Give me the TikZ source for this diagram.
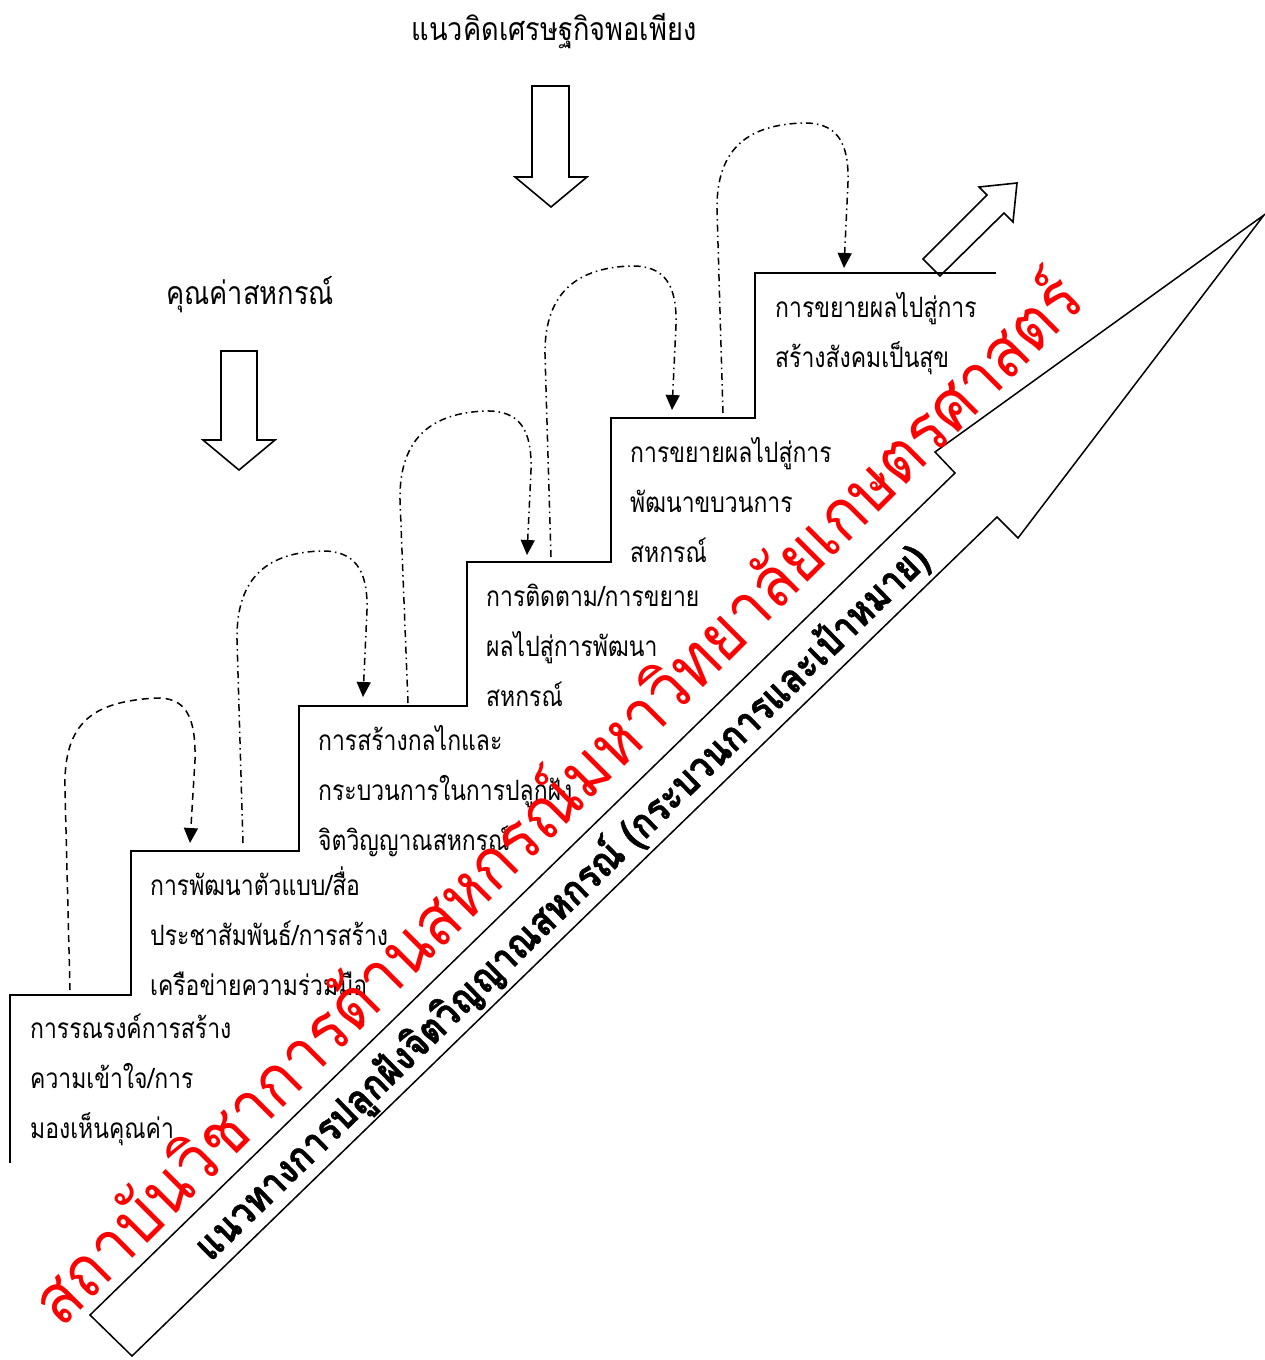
\documentclass[tikz,border=0pt]{standalone}
\usepackage{fontspec}
\usepackage{graphicx}
\usetikzlibrary{arrows.meta}
\newfontfamily\thaifont[Script=Thai]{Loma}
\newfontfamily\diagfont[Script=Thai,BoldFeatures={FakeBold=1.2}]{Loma}
\newfontfamily\stepfont[Script=Thai,FakeStretch=0.82]{Loma}
\newfontfamily\titlefont[Script=Thai,FakeStretch=0.85]{Loma}
\newcommand\stepsize{\stepfont\fontsize{28}{30}\selectfont}
\newcommand\titlesize{\titlefont\fontsize{32}{34}\selectfont}
\begin{document}
\begin{tikzpicture}[x=1pt,y=-1pt,
  stair/.style={line width=2pt, line join=miter},
  blockarrow/.style={draw, line width=1.6pt, line join=miter},
  bigarrow/.style={draw, line width=1.5pt, line join=miter},
  loopA/.style={line width=1.5pt, dash pattern=on 7pt off 5pt, -{Triangle[length=15pt,width=14pt]}},
  loopB/.style={line width=1.5pt, dash pattern=on 7pt off 4pt on 1.5pt off 4pt, -{Triangle[length=15pt,width=14pt]}},
  steptext/.style={anchor=base west, inner sep=0pt, font=\stepsize},
  titletext/.style={anchor=base, inner sep=0pt, font=\titlesize},
]
\useasboundingbox (0,0) rectangle (1264,1360);

% staircase
\draw[stair] (10,1163) -- (10,995) -- (131,995) -- (131,851) -- (299,851) -- (299,706)
  -- (467,706) -- (467,562) -- (611,562) -- (611,418) -- (755,418) -- (755,273) -- (996,273);

% titles
\node[titletext] (t1) at (250,304) {คุณค่าสหกรณ์};
\node[titletext] (t2) at (554,40) {แนวคิดเศรษฐกิจพอเพียง};

% block arrows down
\draw[blockarrow] (221,351) -- (257,351) -- (257,440) -- (275,440) -- (239,470) -- (203,440) -- (221,440) -- cycle;
\draw[blockarrow] (532,86) -- (569,86) -- (569,177) -- (587,177) -- (551,207) -- (515,177) -- (532,177) -- cycle;

% small diagonal arrow
\draw[blockarrow] (940,276) -- (923,259) -- (987,195) -- (979,187) -- (1017,183) -- (1013,222) -- (1004,213) -- cycle;

% big arrow
\draw[bigarrow] (90,1315) -- (955,473) -- (935,452) -- (1264,215) -- (1018,538) -- (997,517) -- (132,1356) -- cycle;

% loops
\coordinate (l1s) at (70,990);  \coordinate (l1e) at (190,843);
\coordinate (l2s) at (243,843); \coordinate (l2e) at (363,697);
\coordinate (l3s) at (408,703); \coordinate (l3e) at (527,555);
\coordinate (l4s) at (551,557); \coordinate (l4e) at (672,410);
\coordinate (l5s) at (723,413); \coordinate (l5e) at (844,268);
\draw[loopA] (l1s) -- (65,790) .. controls (63,720) and (95,702) .. (155,698)
  .. controls (185,697) and (196,715) .. (195,760) -- (l1e);
\draw[loopB] (l2s) -- (237,640) .. controls (236,575) and (270,553) .. (320,551)
  .. controls (355,550) and (368,570) .. (367,610) -- (l2e);
\draw[loopB] (l3s) -- (400,500) .. controls (399,435) and (435,413) .. (485,411)
  .. controls (520,410) and (532,430) .. (531,470) -- (l3e);
\draw[loopB] (l4s) -- (545,355) .. controls (544,290) and (580,268) .. (630,266)
  .. controls (665,265) and (677,285) .. (676,325) -- (l4e);
\draw[loopB] (l5s) -- (717,210) .. controls (716,145) and (752,125) .. (802,123)
  .. controls (837,122) and (849,142) .. (848,182) -- (l5e);

% step texts
\node[steptext] (s1a) at (30,1038) {การรณรงค์การสร้าง};
\node[steptext] (s1b) at (30,1088) {ความเข้าใจ/การ};
\node[steptext] (s1c) at (30,1138) {มองเห็นคุณค่า};
\node[steptext] (s2a) at (150,895) {การพัฒนาตัวแบบ/สื่อ};
\node[steptext] (s2b) at (150,945) {ประชาสัมพันธ์/การสร้าง};
\node[steptext] (s2c) at (150,995) {เครือข่ายความร่วมมือ};
\node[steptext] (s3a) at (318,750) {การสร้างกลไกและ};
\node[steptext] (s3b) at (318,800) {กระบวนการในการปลูกฝัง};
\node[steptext] (s3c) at (318,850) {จิตวิญญาณสหกรณ์};
\node[steptext] (s4a) at (486,606) {การติดตาม/การขยาย};
\node[steptext] (s4b) at (486,656) {ผลไปสู่การพัฒนา};
\node[steptext] (s4c) at (486,706) {สหกรณ์};
\node[steptext] (s5a) at (630,462) {การขยายผลไปสู่การ};
\node[steptext] (s5b) at (630,512) {พัฒนาขบวนการ};
\node[steptext] (s5c) at (630,562) {สหกรณ์};
\node[steptext] (s6a) at (775,317) {การขยายผลไปสู่การ};
\node[steptext] (s6b) at (775,367) {สร้างสังคมเป็นสุข};

% diagonal label
\node[rotate=44.2, inner sep=0pt] (diag) at (562,903)
  {\scalebox{1}[1.15]{\resizebox{1005pt}{!}{\diagfont\bfseries แนวทางการปลูกฝังจิตวิญญาณสหกรณ์ (กระบวนการและเป้าหมาย)}}};

% watermark
\node[rotate=45, inner sep=0pt, text=red] (wm) at (553,795)
  {\scalebox{1}[1.1]{\resizebox{1450pt}{!}{\thaifont สถาบันวิชาการด้านสหกรณ์มหาวิทยาลัยเกษตรศาสตร์}}};
\end{tikzpicture}
\end{document}
